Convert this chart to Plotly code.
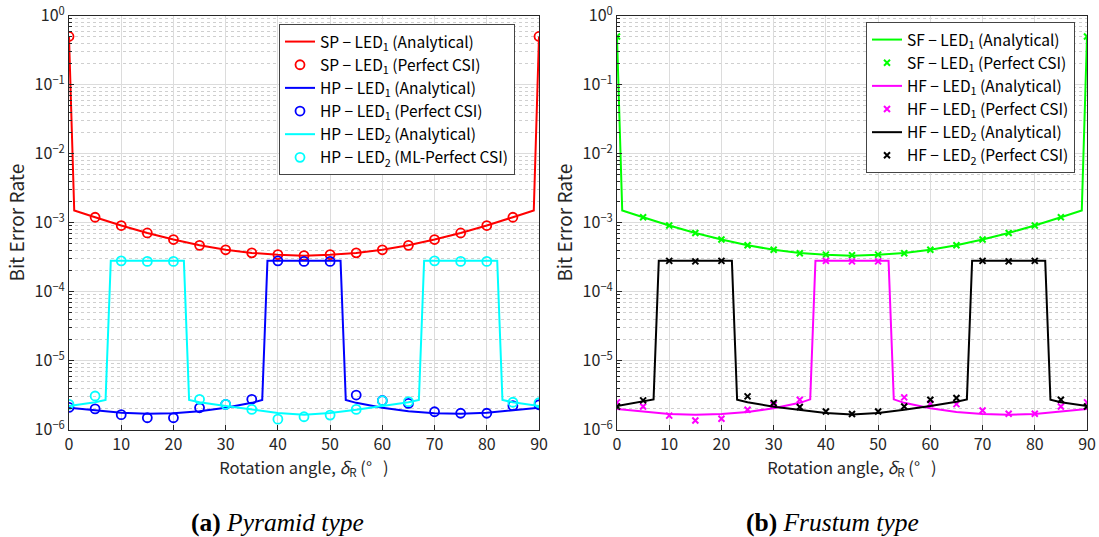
import plotly.graph_objects as go
from plotly.subplots import make_subplots

# ---------------- data ----------------
angles_marks = [0, 5, 10, 15, 20, 25, 30, 35, 40, 45, 50, 55, 60, 65, 70, 75, 80, 85, 90]

# single-LED (SP / SF) analytical
single_x = [0, 1, 5, 10, 15, 20, 25, 30, 35, 40, 45, 50, 55, 60, 65, 70, 75, 80, 85, 89, 90]
single_y = [0.5, 1.5e-3, 1.2e-3, 9.1e-4, 7.1e-4, 5.7e-4, 4.7e-4, 4.05e-4, 3.65e-4, 3.42e-4, 3.33e-4,
            3.42e-4, 3.65e-4, 4.05e-4, 4.7e-4, 5.7e-4, 7.1e-4, 9.1e-4, 1.2e-3, 1.5e-3, 0.5]
sp_marks = [0.5, 1.2e-3, 9.1e-4, 7.1e-4, 5.7e-4, 4.7e-4, 4.05e-4, 3.65e-4, 3.45e-4, 3.33e-4,
            3.45e-4, 3.65e-4, 4.05e-4, 4.7e-4, 5.7e-4, 7.1e-4, 9.1e-4, 1.2e-3, 0.5]
sf_marks = [0.5, 1.2e-3, 9.1e-4, 7.1e-4, 5.7e-4, 4.7e-4, 4.05e-4, 3.6e-4, 3.45e-4, 3.38e-4,
            3.45e-4, 3.6e-4, 4.05e-4, 4.7e-4, 5.7e-4, 7.1e-4, 9.1e-4, 1.2e-3, 0.5]

# hybrid LED1 analytical (HP / HF)
led1_x = [0, 5, 10, 15, 20, 25, 30, 35, 37, 38, 40, 45, 50, 52, 53, 55, 60, 65, 70, 75, 80, 85, 90]
hp1_y = [2.08e-6, 1.9e-6, 1.76e-6, 1.7e-6, 1.73e-6, 1.85e-6, 2.08e-6, 2.45e-6, 2.7e-6,
         2.8e-4, 2.8e-4, 2.8e-4, 2.8e-4, 2.8e-4,
         2.7e-6, 2.45e-6, 2.08e-6, 1.85e-6, 1.73e-6, 1.7e-6, 1.76e-6, 1.9e-6, 2.08e-6]
hf1_y = [2.0e-6, 1.82e-6, 1.69e-6, 1.65e-6, 1.69e-6, 1.8e-6, 2.05e-6, 2.45e-6, 2.75e-6,
         2.8e-4, 2.8e-4, 2.8e-4, 2.8e-4, 2.8e-4,
         2.75e-6, 2.45e-6, 2.05e-6, 1.8e-6, 1.69e-6, 1.65e-6, 1.69e-6, 1.82e-6, 2.0e-6]

# hybrid LED2 analytical (HP / HF)
led2_x = [0, 5, 7, 8, 10, 15, 20, 22, 23, 25, 30, 35, 40, 45, 50, 55, 60, 65, 67, 68, 70, 75, 80, 82, 83, 85, 90]
hp2_y = [2.2e-6, 2.5e-6, 2.7e-6, 2.8e-4, 2.8e-4, 2.8e-4, 2.8e-4, 2.8e-4,
         2.7e-6, 2.5e-6, 2.2e-6, 1.95e-6, 1.75e-6, 1.65e-6, 1.75e-6, 1.95e-6, 2.2e-6, 2.5e-6, 2.7e-6,
         2.8e-4, 2.8e-4, 2.8e-4, 2.8e-4, 2.8e-4, 2.7e-6, 2.5e-6, 2.2e-6]
hf2_y = [2.2e-6, 2.55e-6, 2.75e-6, 2.8e-4, 2.8e-4, 2.8e-4, 2.8e-4, 2.8e-4,
         2.72e-6, 2.5e-6, 2.15e-6, 1.92e-6, 1.75e-6, 1.66e-6, 1.75e-6, 1.95e-6, 2.2e-6, 2.55e-6, 2.75e-6,
         2.8e-4, 2.8e-4, 2.8e-4, 2.8e-4, 2.8e-4, 2.72e-6, 2.5e-6, 2.2e-6]

hp1_marks = [2.1e-6, 2.0e-6, 1.65e-6, 1.49e-6, 1.49e-6, 2.08e-6, 2.33e-6, 2.76e-6, 2.8e-4, 2.75e-4,
             2.75e-4, 3.18e-6, 2.65e-6, 2.4e-6, 1.82e-6, 1.73e-6, 1.73e-6, 2.23e-6, 2.3e-6]
hp2_marks = [2.33e-6, 3.08e-6, 2.8e-4, 2.75e-4, 2.75e-4, 2.76e-6, 2.33e-6, 1.97e-6, 1.42e-6, 1.54e-6,
             1.63e-6, 1.97e-6, 2.63e-6, 2.55e-6, 2.8e-4, 2.75e-4, 2.75e-4, 2.5e-6, 2.46e-6]
hf1_marks = [2.49e-6, 2.17e-6, 1.6e-6, 1.36e-6, 1.44e-6, 1.95e-6, 2.3e-6, 2.72e-6, 2.8e-4, 2.75e-4,
             2.75e-4, 2.94e-6, 2.38e-6, 2.35e-6, 1.9e-6, 1.7e-6, 1.7e-6, 2.17e-6, 2.49e-6]
hf2_marks = [2.17e-6, 2.66e-6, 2.8e-4, 2.75e-4, 2.8e-4, 3.04e-6, 2.44e-6, 2.13e-6, 1.84e-6, 1.69e-6,
             1.84e-6, 2.17e-6, 2.72e-6, 2.88e-6, 2.8e-4, 2.75e-4, 2.8e-4, 2.72e-6, 2.17e-6]

x_ticks = [0, 10, 20, 30, 40, 50, 60, 70, 80, 90]
y_ticks = [1e-6, 1e-5, 1e-4, 1e-3, 1e-2, 1e-1, 1]
y_ticktext = ["10<sup>−6</sup>", "10<sup>−5</sup>", "10<sup>−4</sup>", "10<sup>−3</sup>",
              "10<sup>−2</sup>", "10<sup>−1</sup>", "10<sup>0</sup>"]
y_minor = [m * d for d in y_ticks[:-1] for m in range(2, 10)]

FONT = "Noto Sans CJK JP"

fig = make_subplots(rows=1, cols=2)

def line(x, y, color, name, col, legend):
    fig.add_trace(go.Scatter(x=x, y=y, mode="lines", name=name, legend=legend,
                             line=dict(color=color, width=2)), row=1, col=col)

def circ(y, color, name, col, legend):
    fig.add_trace(go.Scatter(x=angles_marks, y=y, mode="markers", name=name, legend=legend,
                             marker=dict(symbol="circle-open", size=9, color=color,
                                         line=dict(width=1.8, color=color))), row=1, col=col)

def cross(y, color, name, col, legend):
    fig.add_trace(go.Scatter(x=angles_marks, y=y, mode="markers", name=name, legend=legend,
                             marker=dict(symbol="x-thin-open", size=6, color=color,
                                         line=dict(width=2, color=color))), row=1, col=col)

# left: pyramid
line(single_x, single_y, "#ff0000", "SP − LED<sub>1</sub> (Analytical)", 1, "legend")
circ(sp_marks, "#ff0000", "SP − LED<sub>1</sub> (Perfect CSI)", 1, "legend")
line(led1_x, hp1_y, "#0000ff", "HP − LED<sub>1</sub> (Analytical)", 1, "legend")
circ(hp1_marks, "#0000ff", "HP − LED<sub>1</sub> (Perfect CSI)", 1, "legend")
line(led2_x, hp2_y, "#00ffff", "HP − LED<sub>2</sub> (Analytical)", 1, "legend")
circ(hp2_marks, "#00ffff", "HP − LED<sub>2</sub> (ML-Perfect CSI)", 1, "legend")

# right: frustum
line(single_x, single_y, "#00ff00", "SF − LED<sub>1</sub> (Analytical)", 2, "legend2")
cross(sf_marks, "#00ff00", "SF − LED<sub>1</sub> (Perfect CSI)", 2, "legend2")
line(led1_x, hf1_y, "#ff00ff", "HF − LED<sub>1</sub> (Analytical)", 2, "legend2")
cross(hf1_marks, "#ff00ff", "HF − LED<sub>1</sub> (Perfect CSI)", 2, "legend2")
line(led2_x, hf2_y, "#000000", "HF − LED<sub>2</sub> (Analytical)", 2, "legend2")
cross(hf2_marks, "#000000", "HF − LED<sub>2</sub> (Perfect CSI)", 2, "legend2")

W, H = 1099, 537
xdom1 = [69 / W, 539 / W]
xdom2 = [617 / W, 1087 / W]
ydom = [1 - 429.7 / H, 1 - 15.7 / H]

axis_common = dict(showline=True, mirror=True, linecolor="#262626", linewidth=1,
                   ticks="inside", ticklen=5, tickcolor="#262626",
                   gridcolor="#dcdcdc", gridwidth=1, zeroline=False,
                   tickfont=dict(family=FONT, size=16, color="#262626"))

for i, dom in ((1, xdom1), (2, xdom2)):
    fig.update_xaxes(row=1, col=i, domain=dom, range=[0, 90], tickvals=x_ticks,
                     title=dict(text="Rotation angle, <i>δ</i><sub>R</sub> (°&nbsp;&nbsp;&nbsp;)",
                                font=dict(family=FONT, size=16.5, color="#262626"), standoff=2),
                     **axis_common)
    fig.update_yaxes(row=1, col=i, domain=ydom, type="log", range=[-6, 0],
                     tickvals=y_ticks, ticktext=y_ticktext,
                     minor=dict(tickmode="array", tickvals=y_minor, showgrid=True, griddash="dot",
                                gridcolor="#cfcfcf", ticks="inside", ticklen=3, tickcolor="#262626"),
                     title=dict(text="Bit Error Rate",
                                font=dict(family=FONT, size=19, color="#262626"), standoff=4),
                     **axis_common)

legend_common = dict(bgcolor="white", bordercolor="#444444", borderwidth=1,
                     font=dict(family=FONT, size=15.5, color="#000000"),
                     xanchor="left", yanchor="top", itemwidth=30, tracegroupgap=0)

fig.update_layout(
    width=W, height=H,
    margin=dict(l=0, r=0, t=0, b=0, autoexpand=False),
    paper_bgcolor="white", plot_bgcolor="white",
    legend=dict(x=279 / W, y=1 - 24 / H, **legend_common),
    legend2=dict(x=866 / W, y=1 - 22 / H, **legend_common),
    annotations=[
        dict(text="<b>(a)</b> <i>Pyramid type</i>", x=277 / W, y=1 - 522 / H, xref="paper", yref="paper",
             xanchor="center", yanchor="middle", showarrow=False,
             font=dict(family="Liberation Serif", size=25.5, color="#000000")),
        dict(text="<b>(b)</b> <i>Frustum type</i>", x=832 / W, y=1 - 522 / H, xref="paper", yref="paper",
             xanchor="center", yanchor="middle", showarrow=False,
             font=dict(family="Liberation Serif", size=25.5, color="#000000")),
    ],
)

fig.write_html("out.html")
